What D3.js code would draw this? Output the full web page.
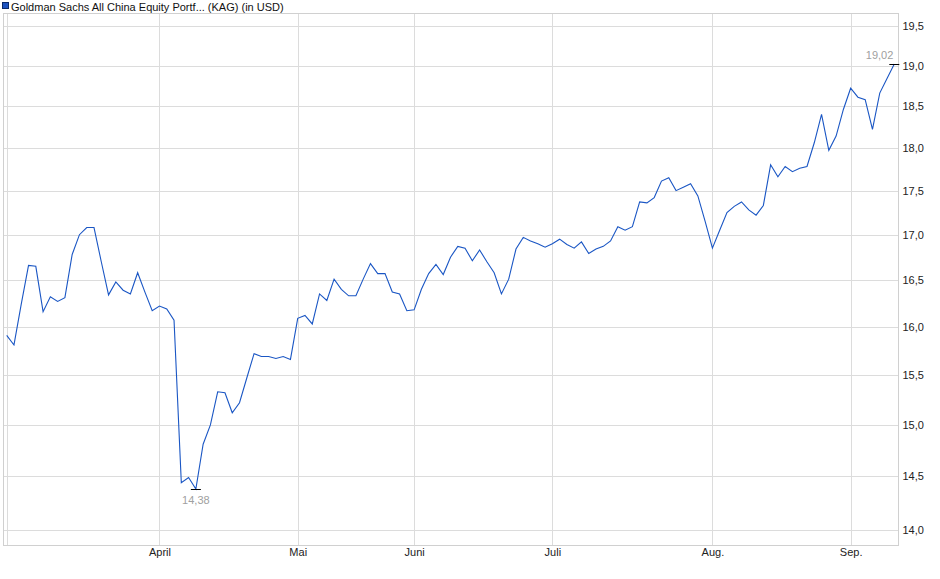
<!DOCTYPE html>
<html>
<head>
<meta charset="utf-8">
<script src="https://cdn.jsdelivr.net/npm/d3@7"></script>
<style>
    body { margin: 0; background: #fff; }
    svg { font-family: "Liberation Sans", Arial, sans-serif; }
</style>
</head>
<body>
<svg id="chart" width="940" height="579"></svg>
<script>
(function(){
    'use strict';

    var title = "Goldman Sachs All China Equity Portf... (KAG) (in USD)";

    // one value per trading day, early March -> early September
    var prices = [
        15.91, 15.81, 16.24, 16.66, 16.65, 16.16, 16.32, 16.27, 16.31, 16.78,
        17.00, 17.08, 17.08, 16.70, 16.34, 16.48, 16.39, 16.35, 16.58, 16.37,
        16.17, 16.22, 16.19, 16.07, 14.44, 14.49, 14.38, 14.81, 15.00, 15.33,
        15.32, 15.12, 15.22, 15.47, 15.72, 15.69, 15.69, 15.67, 15.69, 15.66,
        16.09, 16.12, 16.03, 16.35, 16.28, 16.51, 16.40, 16.33, 16.33, 16.51,
        16.68, 16.57, 16.57, 16.37, 16.35, 16.17, 16.18, 16.40, 16.57, 16.67,
        16.56, 16.75, 16.87, 16.85, 16.71, 16.83, 16.70, 16.58, 16.35, 16.51,
        16.84, 16.97, 16.93, 16.90, 16.86, 16.90, 16.95, 16.89, 16.85, 16.92,
        16.79, 16.84, 16.87, 16.93, 17.09, 17.05, 17.09, 17.37, 17.36, 17.42,
        17.61, 17.65, 17.50, 17.54, 17.58, 17.44, 17.15, 16.85, 17.05, 17.25,
        17.32, 17.37, 17.28, 17.22, 17.33, 17.80, 17.66, 17.78, 17.72, 17.76,
        17.78, 18.06, 18.40, 17.97, 18.14, 18.46, 18.72, 18.61, 18.58, 18.22,
        18.66, 18.84, 19.02
    ];

    var monthNames = ["April", "Mai", "Juni", "Juli", "Aug.", "Sep."];
    var monthStart = [21, 40, 56, 75, 97, 116];   // index of first trading day
    var yTicks = [14, 14.5, 15, 15.5, 16, 16.5, 17, 17.5, 18, 18.5, 19, 19.5];

    var lowIdx = d3.minIndex(prices);
    var lastIdx = prices.length - 1;

    var svg = d3.select('#chart');
    var left = 3.5, right = 898.5, top = 13.5, bottom = 545.5;

    var x = d3.scaleLinear().domain([0, lastIdx]).range([6.7, 894.3]);
    var y = d3.scaleLog().domain([13.86, 19.67]).range([545, 13]);

    var fmt = function(v, d){ return d3.format('.' + d + 'f')(v).replace('.', ','); };

    // legend
    svg.append('rect')
        .attr('x', 2.5).attr('y', 2.5).attr('width', 6).attr('height', 6)
        .attr('fill', '#1d53c0').attr('stroke', '#0a2a6a').attr('stroke-width', 1);
    svg.append('text')
        .attr('x', 11).attr('y', 10.5)
        .attr('font-size', '11px').attr('fill', '#111')
        .text(title);

    // horizontal grid
    svg.append('g').selectAll('line')
        .data(yTicks).enter()
        .append('line')
        .attr('x1', left).attr('x2', right)
        .attr('y1', function(d){ return Math.round(y(d)) + 0.5; })
        .attr('y2', function(d){ return Math.round(y(d)) + 0.5; })
        .attr('stroke', '#dcdcdc');

    // vertical grid (first trading day + month starts)
    svg.append('g').selectAll('line')
        .data([0].concat(monthStart)).enter()
        .append('line')
        .attr('x1', function(d){ return Math.round(x(d)) + 0.5; })
        .attr('x2', function(d){ return Math.round(x(d)) + 0.5; })
        .attr('y1', top).attr('y2', bottom)
        .attr('stroke', '#dcdcdc');

    // frame
    svg.append('rect')
        .attr('x', left).attr('y', top)
        .attr('width', right - left).attr('height', bottom - top)
        .attr('fill', 'none').attr('stroke', '#d0d0d0');

    // right axis
    var yAxis = d3.axisRight(y)
        .tickValues(yTicks)
        .tickSize(0)
        .tickPadding(4)
        .tickFormat(function(d){ return fmt(d, 1); });
    var gy = svg.append('g')
        .attr('transform', 'translate(' + right + ',0)')
        .call(yAxis);
    gy.select('.domain').remove();
    gy.selectAll('text').attr('font-size', '11px').attr('fill', '#222')
        .attr('font-family', '"Liberation Sans", Arial, sans-serif');

    // bottom axis (month labels)
    var xAxis = d3.axisBottom(x)
        .tickValues(monthStart)
        .tickSize(0)
        .tickPadding(3)
        .tickFormat(function(d, i){ return monthNames[i]; });
    var gx = svg.append('g')
        .attr('transform', 'translate(0,' + bottom + ')')
        .call(xAxis);
    gx.select('.domain').remove();
    gx.selectAll('text').attr('font-size', '11px').attr('fill', '#222')
        .attr('font-family', '"Liberation Sans", Arial, sans-serif');

    // price line
    var line = d3.line()
        .x(function(d, i){ return x(i); })
        .y(function(d){ return y(d); });
    svg.append('path')
        .datum(prices)
        .attr('d', line)
        .attr('fill', 'none')
        .attr('stroke', '#1a56c4')
        .attr('stroke-width', 1.1);

    // low / last markers
    var marks = [
        {i: lowIdx, dy: 14, anchor: 'middle', dx: 0},
        {i: lastIdx, dy: -6, anchor: 'end', dx: -1}
    ];
    marks.forEach(function(m){
        var px = x(m.i), py = Math.round(y(prices[m.i])) + 0.5;
        svg.append('line')
            .attr('x1', px - 5).attr('x2', px + 5)
            .attr('y1', py).attr('y2', py)
            .attr('stroke', '#000');
        svg.append('text')
            .attr('x', px + m.dx).attr('y', py + m.dy)
            .attr('text-anchor', m.anchor)
            .attr('font-size', '11px').attr('fill', '#a0a0a0')
            .text(fmt(prices[m.i], 2));
    });
}());
</script>
</body>
</html>
